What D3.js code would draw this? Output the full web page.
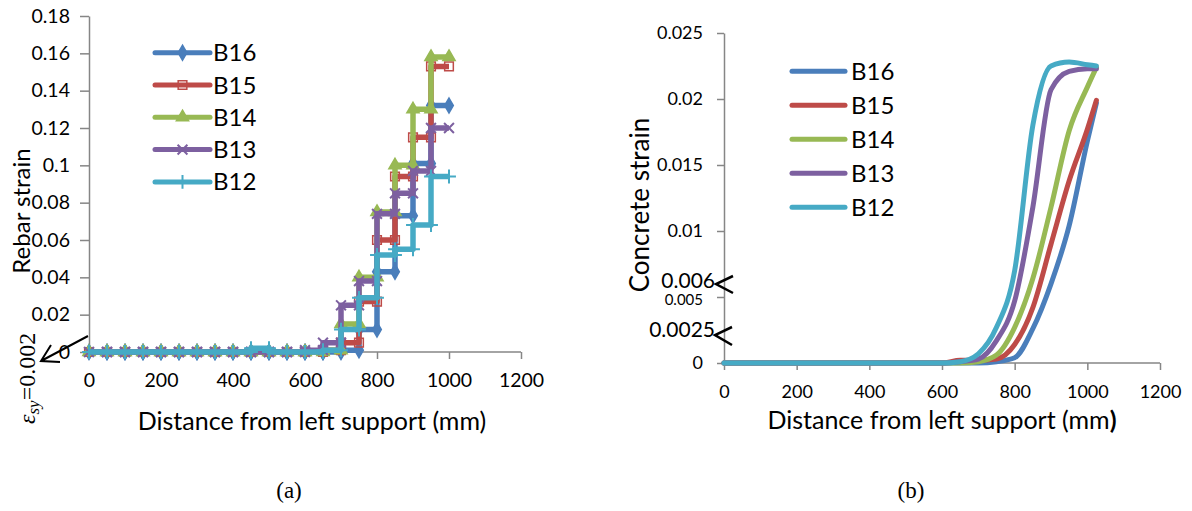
<!DOCTYPE html>
<html>
<head>
<meta charset="utf-8">
<script src="https://cdn.jsdelivr.net/npm/d3@7"></script>
<style>
  body { margin: 0; background: #fff; }
  svg text { font-family: Lato, "Open Sans", sans-serif; fill: #000; }
  .axis path, .axis line { stroke: #868686; stroke-width: 1.5; }
  .axis text { font-size: 18px; }
  .axisA text { font-size: 19.5px; }
</style>
</head>
<body>
<svg id="fig" width="1192" height="511"></svg>
<script>
// SET DATA
const _series = ['B16', 'B15', 'B14', 'B13', 'B12'];
const _colors = ['#4A7EBB', '#BE4B48', '#98B954', '#7D60A0', '#46AAC5'];

// (a) rebar strain, one value per 50 mm interval (0-50 ... 950-1000)
const _stepStarts = [0, 50, 100, 150, 200, 250, 300, 350, 400, 450, 500, 550, 600, 650, 700, 750, 800, 850, 900, 950];
const _stepWidth = 50;
const _rebarB16 = [0, 0, 0, 0, 0, 0, 0, 0, 0, 0, 0, 0, 0, 0, 0.001, 0.012, 0.043, 0.073, 0.101, 0.132];
const _rebarB15 = [0, 0, 0, 0, 0, 0, 0, 0, 0, 0, 0, 0, 0, 0.001, 0.005, 0.027, 0.060, 0.094, 0.115, 0.153];
const _rebarB14 = [0, 0, 0, 0, 0, 0, 0, 0, 0, 0, 0, 0, 0, 0.001, 0.015, 0.040, 0.075, 0.100, 0.130, 0.158];
const _rebarB13 = [0, 0, 0, 0, 0, 0, 0, 0, 0, 0, 0, 0, 0.001, 0.005, 0.025, 0.038, 0.074, 0.085, 0.097, 0.120];
const _rebarB12 = [0, 0, 0, 0, 0, 0, 0, 0, 0, 0.002, 0, 0, 0, 0.001, 0.012, 0.029, 0.052, 0.055, 0.068, 0.094];

// (b) concrete strain
const _concX = [0, 100, 200, 300, 400, 500, 600, 650, 700, 750, 800, 850, 900, 950, 1000, 1025];
const _concB16 = [0, 0, 0, 0, 0, 0, 0, 0, 0, 0.0001, 0.0004, 0.0026, 0.0060, 0.0104, 0.0168, 0.0197];
const _concB15 = [0, 0, 0, 0, 0, 0, 0, 0.0002, 0.0002, 0.0003, 0.0014, 0.0042, 0.0090, 0.0138, 0.0177, 0.0199];
const _concB14 = [0, 0, 0, 0, 0, 0, 0, 0, 0.0001, 0.0006, 0.0027, 0.0064, 0.0118, 0.0176, 0.0209, 0.0224];
const _concB13 = [0, 0, 0, 0, 0, 0, 0, 0.0001, 0.0003, 0.0017, 0.0047, 0.0118, 0.0207, 0.0221, 0.0223, 0.0223];
const _concB12 = [0, 0, 0, 0, 0, 0, 0, 0.0001, 0.0007, 0.0027, 0.0070, 0.0180, 0.0225, 0.0228, 0.0226, 0.0225];

const _xTicks = [0, 200, 400, 600, 800, 1000, 1200];
const _yTicksA = [0, 0.02, 0.04, 0.06, 0.08, 0.1, 0.12, 0.14, 0.16, 0.18];
const _yTicksB = [0, 0.005, 0.01, 0.015, 0.02, 0.025];

const _rebar = [_rebarB16, _rebarB15, _rebarB14, _rebarB13, _rebarB12];
const _conc = [_concB16, _concB15, _concB14, _concB13, _concB12];
const _symbols = [d3.symbolDiamond, d3.symbolSquare, d3.symbolTriangle, d3.symbolX, d3.symbolPlus];
const fmt = d => String(+d.toFixed(4));

const svg = d3.select('#fig');

// SCALES
const xA = d3.scaleLinear().domain([0, 1200]).range([89, 521]);
const yA = d3.scaleLinear().domain([0, 0.18]).range([352, 16]);
const xB = d3.scaleLinear().domain([0, 1200]).range([724, 1160]);
const yB = d3.scaleLinear().domain([0, 0.025]).range([363, 33]);

function drawAxes(x, y, yTicks, tickLen, pad, cls) {
  let gx = svg.append('g').attr('class', `axis ${cls}`)
              .attr('transform', `translate(0, ${y.range()[0]})`)
              .call(d3.axisBottom(x).tickValues(_xTicks).tickSize(7).tickSizeOuter(0).tickFormat(fmt));
      gx.selectAll('text').attr('y', 35).attr('dy', 0);
  let gy = svg.append('g').attr('class', `axis ${cls}`)
              .attr('transform', `translate(${x.range()[0]}, 0)`)
              .call(d3.axisLeft(y).tickValues(yTicks).tickSize(tickLen).tickSizeOuter(0).tickPadding(pad).tickFormat(fmt));
  gx.select('.domain').remove();
  gx.append('line').attr('x1', 0).attr('x2', x.range()[1] - x.range()[0]).attr('transform', `translate(${x.range()[0]},0)`)
      .attr('stroke', '#868686').attr('stroke-width', 1.5);
  return gy;
}

function drawMarkers(pts, s) {
  let filled = s === 0 || s === 2;
  let lineOnly = s >= 3;
  svg.append('g').selectAll('path').data(pts).enter().append('path')
     .attr('transform', d => `translate(${d[0]},${d[1]})`)
     .attr('d', d3.symbol().type(_symbols[s]).size(s === 1 ? 75 : 65))
     .attr('fill', filled ? _colors[s] : 'none')
     .attr('stroke', _colors[s])
     .attr('stroke-width', lineOnly ? 2 : 1.5);
}

// ---------- (a) ----------
drawAxes(xA, yA, _yTicksA, 9, 10, 'axisA');

const stepLine = d3.line().x(d => xA(d[0])).y(d => yA(d[1]));
_rebar.forEach((vals, s) => {
  let pts = [];
  vals.forEach((v, i) => { pts.push([_stepStarts[i], v]); pts.push([_stepStarts[i] + _stepWidth, v]); });
  svg.append('path').attr('d', stepLine(pts)).attr('fill', 'none')
     .attr('stroke', _colors[s]).attr('stroke-width', 5.5).attr('stroke-linejoin', 'round');
  drawMarkers(pts.map(p => [xA(p[0]), yA(p[1])]), s);
});

// legend (a)
_series.forEach((name, i) => {
  let ly = 52.7 + 32.3 * i;
  svg.append('line').attr('x1', 155).attr('x2', 210).attr('y1', ly).attr('y2', ly)
     .attr('stroke', _colors[i]).attr('stroke-width', 5).attr('stroke-linecap', 'round');
  drawMarkers([[182.5, ly]], i);
  svg.append('text').attr('x', 213).attr('y', ly + 8.5).style('font-size', '24px').text(name);
});

svg.append('text').attr('transform', 'translate(30, 211) rotate(-90)')
   .attr('text-anchor', 'middle').style('font-size', '24px').text('Rebar strain');
svg.append('text').attr('x', 312).attr('y', 430)
   .attr('text-anchor', 'middle').style('font-size', '25px').text('Distance from left support (mm)');

// yield strain note
let eps = svg.append('text').attr('transform', 'translate(35, 424) rotate(-90)')
             .style('font-family', '"Liberation Serif", serif').style('font-size', '24px');
    eps.append('tspan').style('font-style', 'italic').style('font-family', '"Liberation Serif", serif').text('ε');
    eps.append('tspan').style('font-style', 'italic').style('font-size', '17px').style('font-family', '"Liberation Serif", serif').attr('dy', 4).text('sy');
    eps.append('tspan').attr('dy', -4).style('font-family', '"Liberation Serif", serif').text('=0.002');
svg.append('path').attr('d', 'M88,336 L41,361 M60,362 L41,361 L51,345')
   .attr('fill', 'none').attr('stroke', '#000').attr('stroke-width', 2);

// ---------- (b) ----------
let gyB = drawAxes(xB, yB, _yTicksB, 7, 14, 'axisB');
gyB.selectAll('.tick text').filter(d => d === 0.005).style('font-size', '15px').attr('dy', '0.5em');

const smooth = d3.line().x(d => xB(d[0])).y(d => yB(d[1])).curve(d3.curveMonotoneX);
_conc.forEach((vals, s) => {
  svg.append('path').attr('d', smooth(vals.map((v, i) => [_concX[i], v]))).attr('fill', 'none')
     .attr('stroke', _colors[s]).attr('stroke-width', 5).attr('stroke-linecap', 'round');
});

// legend (b)
_series.forEach((name, i) => {
  let ly = 71.3 + 34 * i;
  svg.append('line').attr('x1', 792).attr('x2', 845).attr('y1', ly).attr('y2', ly)
     .attr('stroke', _colors[i]).attr('stroke-width', 5).attr('stroke-linecap', 'round');
  svg.append('text').attr('x', 851).attr('y', ly + 8.5).style('font-size', '24px').text(name);
});

// limit marks on the concrete strain axis
[[0.006, 'M733,276 L716,284 L733,293', 4], [0.0025, 'M732,327 L715,335 L732,345', 7]].forEach(m => {
  svg.append('text').attr('x', 715).attr('y', yB(m[0]) + m[2]).attr('text-anchor', 'end')
     .style('font-size', '21px').text(fmt(m[0]));
  svg.append('path').attr('d', m[1]).attr('fill', 'none').attr('stroke', '#000').attr('stroke-width', 2.5);
});

svg.append('text').attr('transform', 'translate(649, 205) rotate(-90)')
   .attr('text-anchor', 'middle').style('font-size', '26px').text('Concrete strain');
let xl = svg.append('text').attr('x', 942).attr('y', 429)
            .attr('text-anchor', 'middle').style('font-size', '25px');
    xl.append('tspan').text('Distance from left support (mm');
    xl.append('tspan').style('font-weight', 'bold').text(')');

// captions
svg.append('text').attr('x', 289).attr('y', 498).attr('text-anchor', 'middle')
   .style('font-family', '"Liberation Serif", serif').style('font-size', '23px').text('(a)');
svg.append('text').attr('x', 911).attr('y', 498).attr('text-anchor', 'middle')
   .style('font-family', '"Liberation Serif", serif').style('font-size', '23px').text('(b)');
</script>
</body>
</html>
